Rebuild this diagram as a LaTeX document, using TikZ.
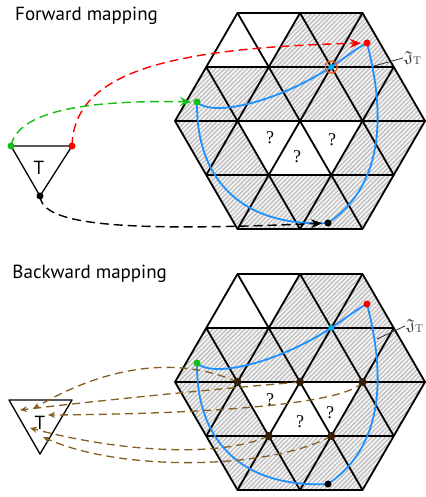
\documentclass[tikz,border=0pt]{standalone}
\usepackage{amssymb}
\usepackage{fontspec}
\setsansfont{PT Sans}
\newfontfamily\qfont{Liberation Serif}
\usetikzlibrary{arrows.meta,patterns.meta}

\definecolor{meshblue}{RGB}{30,144,255}
\definecolor{mapbrown}{RGB}{133,94,33}
\definecolor{nodebrown}{RGB}{55,30,8}
\definecolor{mapgreen}{RGB}{20,190,20}
\definecolor{ringorange}{RGB}{240,90,30}

\tikzset{
    meshline/.style = {line width=1.8pt, line join=round},
    hatchfill/.style = {fill=gray!8, postaction={pattern={Lines[angle=45, distance=3.2pt, line width=1.3pt]}, pattern color=gray!50}},
    boundary/.style = {meshblue, line width=1.8pt, line join=round},
    fwdmap/.style = {dash pattern=on 9pt off 5pt, line width=1.4pt, -{Stealth[length=11pt,width=9pt]}, shorten >=6pt},
    bwdmap/.style = {mapbrown, dash pattern=on 8pt off 5pt, line width=1.3pt, -{Stealth[length=7pt,width=6pt]}},
    vertexdot/.style = {circle, fill, inner sep=0pt, minimum size=7pt},
    title/.style = {font=\sffamily\fontsize{19}{19}\selectfont, anchor=base west, inner sep=0pt},
    tlabel/.style = {font=\sffamily\fontsize{19}{19}\selectfont},
    qmark/.style = {font=\qfont\fontsize{18}{18}\selectfont},
    jlabel/.style = {font=\fontsize{16}{16}\selectfont, text=black!80, anchor=west, inner sep=1pt}
}

% the triangle mesh around the origin
\newcommand{\trimesh}{%
    \fill[hatchfill] (-62.5,-108) -- (62.5,-108) -- (125,0) -- (62.5,108) -- (-62.5,108) -- (-125,0) -- cycle;
    \fill[white] (-62.5,-108) -- (0,-108) -- (-31.25,-54) -- (-93.75,-54) -- cycle;
    \fill[white] (-62.5,0) -- (62.5,0) -- (31.25,54) -- (-31.25,54) -- cycle;
    \draw[meshline] (-62.5,-108) -- (62.5,-108) -- (125,0) -- (62.5,108) -- (-62.5,108) -- (-125,0) -- cycle;
    \foreach \y/\w in {-54/93.75, 0/125, 54/93.75}
        \draw[meshline] (-\w,\y) -- (\w,\y);
    \draw[meshline] (-93.75,54) -- (0,-108) (-62.5,108) -- (62.5,-108) (0,108) -- (93.75,-54)
        (93.75,54) -- (0,-108) (62.5,108) -- (-62.5,-108) (0,108) -- (-93.75,-54);
}

% image of T on the mesh
\newcommand{\meshcurve}[1]{%
    \coordinate (#1green) at (-103,-19);
    \coordinate (#1cyan) at (31.25,-54);
    \coordinate (#1red) at (67,-78);
    \coordinate (#1black) at (28,102);
    \draw[boundary] (#1green) .. controls (-90,-5) and (-30,-15) .. (#1cyan)
        .. controls (46,-64) and (57,-73) .. (#1red)
        .. controls (82,-20) and (90,60) .. (#1black)
        .. controls (-55,106) and (-104,62) .. (#1green) -- cycle;
}

\begin{document}
\begin{tikzpicture}[x=1pt, y=-1pt]
    \useasboundingbox (0,0) rectangle (425,497);

    % forward mapping
    \node[title] (fwdtitle) at (15,20.7) {Forward mapping};
    \begin{scope}[shift={(300,121)}]
        \trimesh
        \meshcurve{f}
        \node[qmark] (fq1) at (-30,17) {?};
        \node[qmark] (fq2) at (-3,36) {?};
        \node[qmark] (fq3) at (32,19) {?};
        \coordinate (fleader) at (74,-55);
        \node[jlabel] (fjay) at (103,-63) {$\mathfrak{J}_{\mathrm{T}}$};
    \end{scope}
    \draw[black!80, line width=0.8pt] (fleader) -- (fjay.west);

    \coordinate (ftl) at (11,146);
    \coordinate (ftr) at (72,146);
    \coordinate (ftb) at (40,196);
    \draw[meshline, line width=1.3pt] (ftl) -- (ftr) -- (ftb) -- cycle;
    \node[tlabel] (ftext) at (39,168) {T};

    \draw[fwdmap, red] (ftr) .. controls (74,75) and (160,48) .. (fred);
    \draw[fwdmap, mapgreen] (ftl) .. controls (18,110) and (90,100) .. (fgreen);
    \draw[fwdmap, black] (ftb) .. controls (42,225) and (120,232) .. (fblack);

    \node[vertexdot, mapgreen] (ftldot) at (ftl) {};
    \node[vertexdot, red] (ftrdot) at (ftr) {};
    \node[vertexdot, black] (ftbdot) at (ftb) {};
    \node[vertexdot, mapgreen] (fgreendot) at (fgreen) {};
    \node[vertexdot, red] (freddot) at (fred) {};
    \node[vertexdot, black] (fblackdot) at (fblack) {};
    \node[vertexdot, cyan, minimum size=6pt] (fcyandot) at (fcyan) {};
    \draw[ringorange, line width=1.3pt] (fcyan) circle (6pt);

    % backward mapping
    \node[title] (bwdtitle) at (12.3,278.3) {Backward mapping};
    \begin{scope}[shift={(300,382)}]
        \trimesh
        \meshcurve{b}
        \node[qmark] (bq1) at (-30,18) {?};
        \node[qmark] (bq2) at (0,40) {?};
        \node[qmark] (bq3) at (30,31) {?};
        \coordinate (bdot1) at (-62.5,0);
        \coordinate (bdot2) at (0,0);
        \coordinate (bdot3) at (62.5,0);
        \coordinate (bdot4) at (-31.25,54);
        \coordinate (bdot5) at (31.25,54);
        \coordinate (bleader) at (77,-43);
        \node[jlabel] (bjay) at (105,-56) {$\mathfrak{J}_{\mathrm{T}}$};
    \end{scope}
    \draw[black!80, line width=0.8pt] (bleader) -- (bjay.west);

    \coordinate (btl) at (9,400);
    \coordinate (btr) at (72,400);
    \coordinate (btb) at (40,454);
    \draw[meshline, line width=1.3pt] (btl) -- (btr) -- (btb) -- cycle;
    \node[tlabel] (btext) at (40,423) {T};

    \coordinate (bta) at (33,409);
    \coordinate (btbb) at (20,410);
    \coordinate (btc) at (48,415);
    \coordinate (btd) at (30,428);
    \coordinate (bte) at (43,437);
    \draw[bwdmap] (bdot1) .. controls (170,352) and (95,372) .. (bta);
    \draw[bwdmap] (bdot2) .. controls (240,387) and (120,398) .. (btbb);
    \draw[bwdmap] (bdot3) .. controls (345,405) and (200,414) .. (btc);
    \draw[bwdmap] (bdot4) .. controls (220,458) and (120,452) .. (btd);
    \draw[bwdmap] (bdot5) .. controls (270,470) and (120,472) .. (bte);

    \foreach \i in {1,...,5}
        \node[vertexdot, nodebrown, minimum size=8pt] (bnode\i) at (bdot\i) {};
    \node[vertexdot, mapgreen] (bgreendot) at (bgreen) {};
    \node[vertexdot, red] (breddot) at (bred) {};
    \node[vertexdot, black] (bblackdot) at (bblack) {};
    \node[vertexdot, cyan, minimum size=6pt] (bcyandot) at (bcyan) {};
\end{tikzpicture}
\end{document}
